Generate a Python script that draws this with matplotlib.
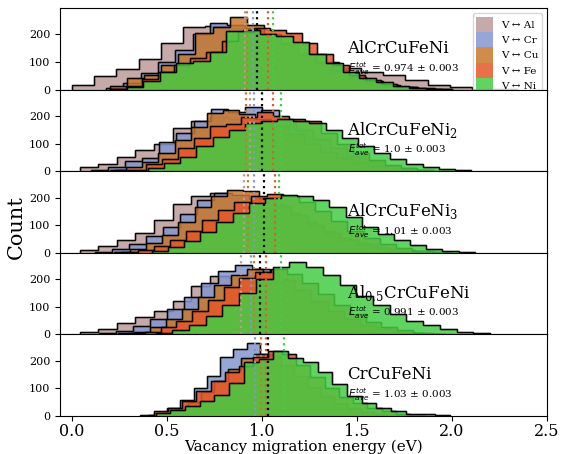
import numpy as np
import matplotlib
matplotlib.use("Agg")
import matplotlib.pyplot as plt
from matplotlib.patches import Patch

plt.rcParams['font.family'] = 'serif'

species = ["Al", "Cr", "Cu", "Fe", "Ni"]
colors = ["#bc9a9a", "#8497cf", "#c9782c", "#e5582a", "#44cc44"]

alloys = ["AlCrCuFeNi", r"AlCrCuFeNi$_\mathregular{2}$", r"AlCrCuFeNi$_\mathregular{3}$",
          r"Al$_\mathregular{0.5}$CrCuFeNi", "CrCuFeNi"]
e_tot = ["0.974", "1.0", "1.01", "0.991", "1.03"]
e_tot_val = [0.974, 1.0, 1.01, 0.991, 1.03]
e_err = "0.003"

# bin counts, with (lo, hi) of the bin range
p1_al = [18, 48, 76, 112, 170, 228, 232, 222, 200, 170, 130, 100, 80, 65, 55, 35, 18, 8, 3, 1]
p1_cr = [5, 25, 60, 100, 145, 200, 241, 235, 215, 190, 160, 125, 95, 70, 45, 30, 18, 10, 5, 2]
p1_cu = [12, 41, 55, 88, 128, 204, 227, 262, 234, 200, 165, 130, 95, 65, 42, 25, 14, 8, 4, 1]
p1_fe = [3, 15, 37, 63, 88, 114, 137, 175, 210, 225, 215, 204, 170, 130, 88, 55, 35, 20, 10, 4]
p1_ni = [3, 10, 33, 63, 95, 105, 137, 212, 215, 200, 195, 173, 131, 95, 65, 42, 27, 15, 7, 3]
p1_rng = [(0.0, 2.34), (0.18, 2.0), (0.2, 2.0), (0.2, 1.88), (0.2, 1.95)]

p2_al = [15, 27, 51, 77, 100, 157, 183, 195, 190, 170, 140, 110, 85, 62, 45, 30, 18, 10, 5, 2]
p2_cr = [4, 15, 37, 48, 106, 139, 183, 224, 215, 231, 221, 185, 150, 115, 85, 55, 35, 20, 9, 3]
p2_cu = [5, 15, 35, 65, 113, 160, 212, 221, 208, 190, 165, 135, 100, 70, 48, 30, 18, 10, 5, 2]
p2_fe = [4, 6, 26, 44, 84, 121, 165, 172, 195, 216, 200, 188, 183, 140, 100, 65, 40, 22, 10, 4]
p2_ni = [11, 30, 50, 90, 124, 150, 176, 182, 188, 180, 175, 150, 120, 90, 65, 45, 28, 15, 7, 3]
p2_rng = [(0.04, 2.0), (0.1, 1.9), (0.2, 1.9), (0.22, 1.9), (0.4, 2.1)]

p3_al = [10, 25, 48, 73, 120, 175, 205, 215, 200, 175, 145, 115, 85, 62, 45, 30, 18, 10, 5, 2]
p3_cr = [4, 14, 32, 60, 95, 140, 190, 215, 210, 195, 175, 145, 110, 80, 55, 35, 22, 12, 5, 2]
p3_cu = [4, 14, 35, 65, 110, 165, 205, 228, 225, 200, 170, 135, 100, 70, 45, 28, 16, 8, 4, 1]
p3_fe = [3, 10, 25, 48, 80, 120, 155, 185, 205, 213, 205, 185, 150, 115, 80, 52, 32, 18, 8, 3]
p3_ni = [6, 20, 42, 75, 110, 145, 180, 200, 210, 205, 190, 165, 130, 95, 68, 45, 28, 15, 7, 3]
p3_rng = [(0.04, 2.0), (0.12, 1.92), (0.22, 1.92), (0.26, 1.96), (0.42, 2.12)]

p4_al = [8, 18, 40, 62, 84, 120, 175, 212, 205, 180, 150, 115, 85, 60, 40, 25, 15, 8, 4, 1]
p4_cr = [4, 12, 30, 55, 90, 135, 185, 230, 250, 235, 200, 160, 120, 85, 55, 35, 20, 10, 5, 2]
p4_cu = [3, 10, 28, 55, 90, 135, 180, 215, 235, 225, 195, 160, 120, 85, 55, 33, 18, 9, 4, 1]
p4_fe = [3, 10, 25, 50, 85, 125, 170, 205, 225, 238, 220, 185, 145, 105, 72, 45, 26, 14, 6, 2]
p4_ni = [5, 15, 35, 65, 105, 150, 200, 245, 260, 245, 215, 180, 140, 105, 75, 50, 32, 18, 9, 4]
p4_rng = [(0.04, 2.0), (0.14, 1.94), (0.24, 1.94), (0.3, 1.96), (0.44, 2.2)]

p5_cr = [3, 12, 30, 59, 102, 144, 212, 242, 264, 225, 180, 140, 100, 68, 42, 25, 14, 7, 3, 1]
p5_cu = [3, 10, 25, 50, 85, 125, 170, 210, 225, 215, 185, 145, 105, 72, 45, 27, 15, 8, 3, 1]
p5_fe = [16, 29, 52, 89, 125, 157, 180, 212, 235, 223, 185, 140, 100, 68, 45, 28, 16, 8, 3, 1]
p5_ni = [10, 22, 37, 52, 77, 120, 194, 205, 235, 210, 194, 157, 114, 71, 45, 29, 16, 8, 5, 3]
p5_rng = [None, (0.36, 1.76), (0.4, 1.8), (0.43, 1.93), (0.44, 1.99)]

# per-species mean energies (dotted lines)
p1_mean = [0.909, 0.951, 0.919, 1.033, 1.056]
p2_mean = [0.935, 0.956, 0.914, 1.059, 1.099]
p3_mean = [0.903, 0.956, 0.924, 1.066, 1.092]
p4_mean = [0.89, 0.94, 0.96, 1.02, 1.10]
p5_mean = [None, 0.961, 0.997, 1.02, 1.114]

panels = [
    ([p1_al, p1_cr, p1_cu, p1_fe, p1_ni], p1_rng, p1_mean),
    ([p2_al, p2_cr, p2_cu, p2_fe, p2_ni], p2_rng, p2_mean),
    ([p3_al, p3_cr, p3_cu, p3_fe, p3_ni], p3_rng, p3_mean),
    ([p4_al, p4_cr, p4_cu, p4_fe, p4_ni], p4_rng, p4_mean),
    ([None, p5_cr, p5_cu, p5_fe, p5_ni], p5_rng, p5_mean),
]

fig, axes = plt.subplots(5, 1, sharex=True, figsize=(5.61, 4.54), dpi=100)
fig.subplots_adjust(left=0.107, right=0.975, top=0.982, bottom=0.084, hspace=0)

for i, ax in enumerate(axes):
    counts, rngs, means = panels[i]
    for j in range(5):
        if counts[j] is None:
            continue
        edges = np.linspace(rngs[j][0], rngs[j][1], len(counts[j]) + 1)
        ax.stairs(counts[j], edges, fill=True, facecolor=colors[j], alpha=0.85,
                  edgecolor='k', linewidth=1.0)
        # outline on top of the fill
        ax.stairs(counts[j], edges, fill=False, color='k', alpha=0.7, linewidth=1.0)
    for j in range(5):
        if means[j] is None:
            continue
        ax.axvline(means[j], color=colors[j], ls=':', lw=1.6)
    ax.axvline(e_tot_val[i], color='k', ls=':', lw=1.6)

    ax.text(0.59, 0.45, alloys[i], transform=ax.transAxes, fontsize=12,
            va='baseline', ha='left')
    ax.text(0.592, 0.22, r"$E_{ave}^{tot}$ = " + e_tot[i] + " ± " + e_err,
            transform=ax.transAxes, fontsize=7.5, va='baseline', ha='left')

    ax.set_ylim(0, 295)
    ax.set_yticks([0, 100, 200])
    ax.tick_params(axis='y', labelsize=8)
    ax.tick_params(axis='x', labelsize=11.5, pad=1.5)

axes[-1].set_xlim(-0.063, 2.5)
axes[-1].set_xticks([0.0, 0.5, 1.0, 1.5, 2.0, 2.5])
axes[-1].set_xlabel("Vacancy migration energy (eV)", fontsize=11, labelpad=0)
fig.text(0.03, 0.5, "Count", rotation=90, va='center', ha='center', fontsize=15)

handles = [Patch(facecolor=colors[j], alpha=0.85, label="V ↔ " + species[j]) for j in range(5)]
axes[0].legend(handles=handles, loc='upper right', fontsize=7.5, labelspacing=0,
               handlelength=1.6, handleheight=1.9, borderpad=0.3, handletextpad=0.8)

fig.savefig("out.png", dpi=100)
